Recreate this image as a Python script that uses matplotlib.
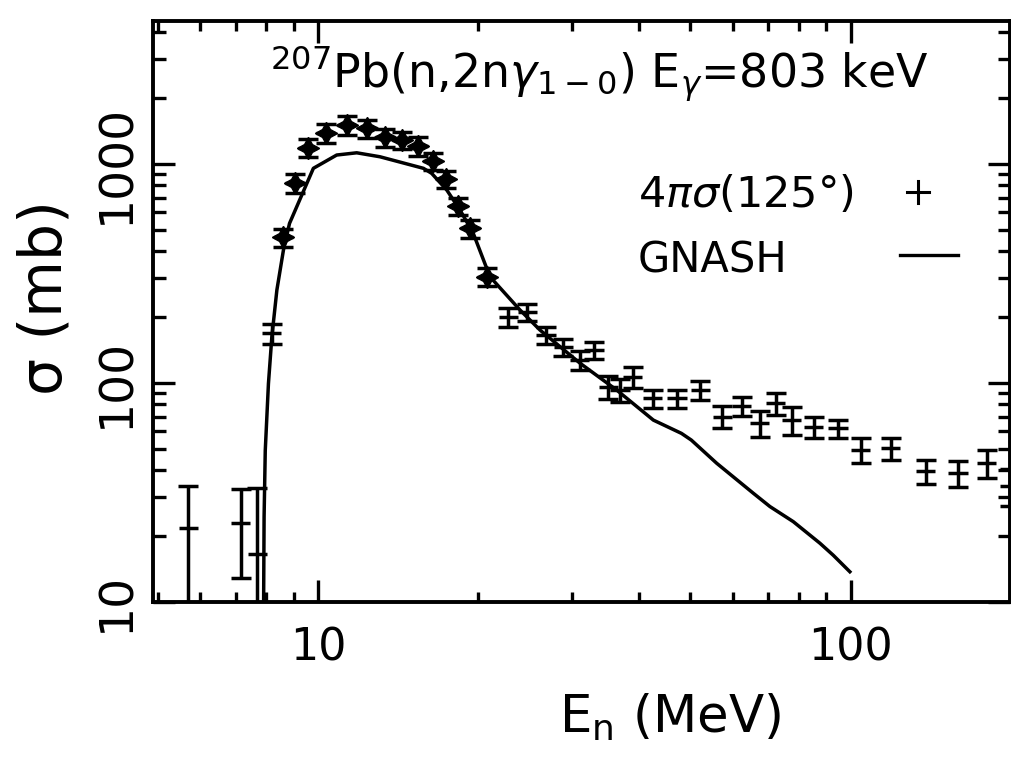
import matplotlib
matplotlib.use('Agg')
import matplotlib.pyplot as plt
import numpy as np
from matplotlib.ticker import FixedLocator, FixedFormatter, NullFormatter, LogLocator
from matplotlib.lines import Line2D
from matplotlib import font_manager

# ---- data ----
energy = [5.71, 7.16, 7.69, 8.19, 8.61, 9.05, 9.565, 10.34, 11.32, 12.37, 13.36,
          14.36, 15.43, 16.42, 17.37, 18.34, 19.28, 20.73, 22.75, 24.70, 26.78,
          28.86, 31.0, 32.95, 35.05, 36.87, 38.94, 42.45, 47.2, 52.2, 57.4, 62.4,
          67.5, 72.3, 77.4, 85.2, 94.6, 104.3, 118.9, 138.3, 159.0, 179.8, 198.7]
sigma = [21.6, 22.8, 16.5, 168, 461, 819, 1183, 1377, 1503, 1451, 1320,
         1283, 1205, 1029, 851, 641, 507, 305, 200, 211, 165,
         146, 127, 141, 96, 92.6, 106.5, 85, 85, 92.6, 69.9, 78.3,
         65.3, 80.5, 67.6, 63.0, 61.9, 49.3, 50.2, 39.5, 38.6, 43.1, 33.8]
sigma_err = [12.3, 10.0, 16.4, 18, 45, 80, 115, 135, 150, 140, 125,
             120, 115, 95, 80, 60, 48, 28, 20, 19, 15,
             13, 12.5, 13, 11.5, 11, 12, 8, 8, 9, 8, 8,
             8.7, 9, 10, 7, 6, 6.5, 6, 5, 5.3, 6.3, 6.5]

gnash_energy = [7.90, 7.92, 7.96, 8.07, 8.19, 8.37, 8.61, 8.84, 9.80, 10.84, 11.82,
                13.07, 15.77, 16.34, 17.44, 18.47, 19.56, 21.02, 23.93, 26.1, 31.0,
                36.35, 42.6, 48.1, 50.2, 56.0, 65.6, 70.5, 78.0, 87.5, 92.7, 99.6]
gnash_sigma = [8.0, 24.4, 49, 99, 162, 265, 403, 534, 953, 1096, 1122,
               1076, 953, 904, 759, 615, 481, 305, 215, 174, 123,
               92.6, 67.5, 58.7, 54.7, 42.9, 31.3, 27.2, 23.2, 18.5, 16.3, 13.7]

x_ticks = [10, 100]
x_tick_labels = ['10', '100']
y_ticks = [10, 100, 1000]
y_tick_labels = ['10', '100', '1000']

title_text = r'$^{207}$Pb(n,2n$\gamma_{1-0}$) E$_{\gamma}$=803 keV'
legend_data_text = r'4$\pi\sigma$(125°)'
legend_model_text = 'GNASH'
x_label = r'E$_{\rm n}$ (MeV)'
y_label = 'σ (mb)'

# ---- fonts ----
plt.rcParams['font.family'] = ['DejaVu Sans']
plt.rcParams['mathtext.fontset'] = 'dejavusans'

narrow = None
for cand in ['Liberation Sans Narrow']:
    try:
        font_manager.findfont(cand, fallback_to_default=False)
        narrow = cand
        break
    except Exception:
        pass
if narrow:
    tick_font = [narrow, 'DejaVu Sans']
    xtick_size, ytick_size = 40, 42
else:
    tick_font = ['DejaVu Sans']
    xtick_size, ytick_size = 32, 34

W, H = 1012, 771
fig = plt.figure(figsize=(W / 100, H / 100), dpi=100)


def fxy(px, py):
    return px / W, 1 - py / H


ax = fig.add_axes([153 / W, 1 - 601.7 / H, (1010 - 153) / W, (601.7 - 20.7) / H])
ax.set_xscale('log')
ax.set_yscale('log')
ax.set_xlim(4.9, 199)
ax.set_ylim(10, 4500)

lw = 2.5
ax.plot(gnash_energy, gnash_sigma, color='black', lw=lw)

x = np.array(energy)
y = np.array(sigma)
half_dex = 0.018
xfac = 10 ** half_dex
xerr = [x - x / xfac, x * xfac - x]
ax.errorbar(x, y, yerr=sigma_err, fmt='none', ecolor='black', elinewidth=lw,
            capsize=7, capthick=lw)
ax.errorbar(x, y, xerr=xerr, fmt='none', ecolor='black', elinewidth=lw, capsize=0)
star = slice(4, 18)
ax.plot(x[star], y[star], linestyle='none', marker=(4, 1, 0), ms=16, color='black')

for s in ax.spines.values():
    s.set_linewidth(2.8)

ax.xaxis.set_major_locator(FixedLocator(x_ticks))
ax.xaxis.set_major_formatter(FixedFormatter(x_tick_labels))
ax.xaxis.set_minor_locator(LogLocator(base=10, subs=np.arange(2, 10)))
ax.xaxis.set_minor_formatter(NullFormatter())
ax.yaxis.set_major_locator(FixedLocator(y_ticks))
ax.yaxis.set_major_formatter(FixedFormatter(y_tick_labels))
ax.yaxis.set_minor_locator(LogLocator(base=10, subs=np.arange(2, 10)))
ax.yaxis.set_minor_formatter(NullFormatter())

ax.tick_params(which='both', direction='in', top=True, right=True, width=2.4)
ax.tick_params(axis='x', which='major', length=16, labelsize=xtick_size, pad=18)
ax.tick_params(axis='x', which='minor', length=7)
ax.tick_params(axis='y', which='major', length=16, labelsize=ytick_size, pad=10, labelrotation=90)
ax.tick_params(axis='y', which='minor', length=9)
for lab in ax.get_yticklabels() + ax.get_xticklabels():
    lab.set_family(tick_font)
for lab in ax.get_yticklabels():
    lab.set_va('center')

# texts
fig.text(*fxy(270, 88), title_text, ha='left', va='baseline', fontsize=33)
fig.text(*fxy(638, 207), legend_data_text, ha='left', va='baseline', fontsize=31)
fig.text(*fxy(638, 272), legend_model_text, ha='left', va='baseline', fontsize=30)
# legend symbols
fig.add_artist(Line2D([907 / W, 929 / W], [1 - 192 / H, 1 - 192 / H], color='black', lw=2.2))
fig.add_artist(Line2D([918 / W, 918 / W], [1 - 181 / H, 1 - 203 / H], color='black', lw=2.2))
fig.add_artist(Line2D([900 / W, 958 / W], [1 - 255 / H, 1 - 255 / H], color='black', lw=2.4))

fig.text(*fxy(45, 298), y_label, rotation=90, ha='center', va='center', fontsize=42)
fig.text(*fxy(670, 718), x_label, ha='center', va='center', fontsize=37)

fig.savefig('out.png', dpi=100)
